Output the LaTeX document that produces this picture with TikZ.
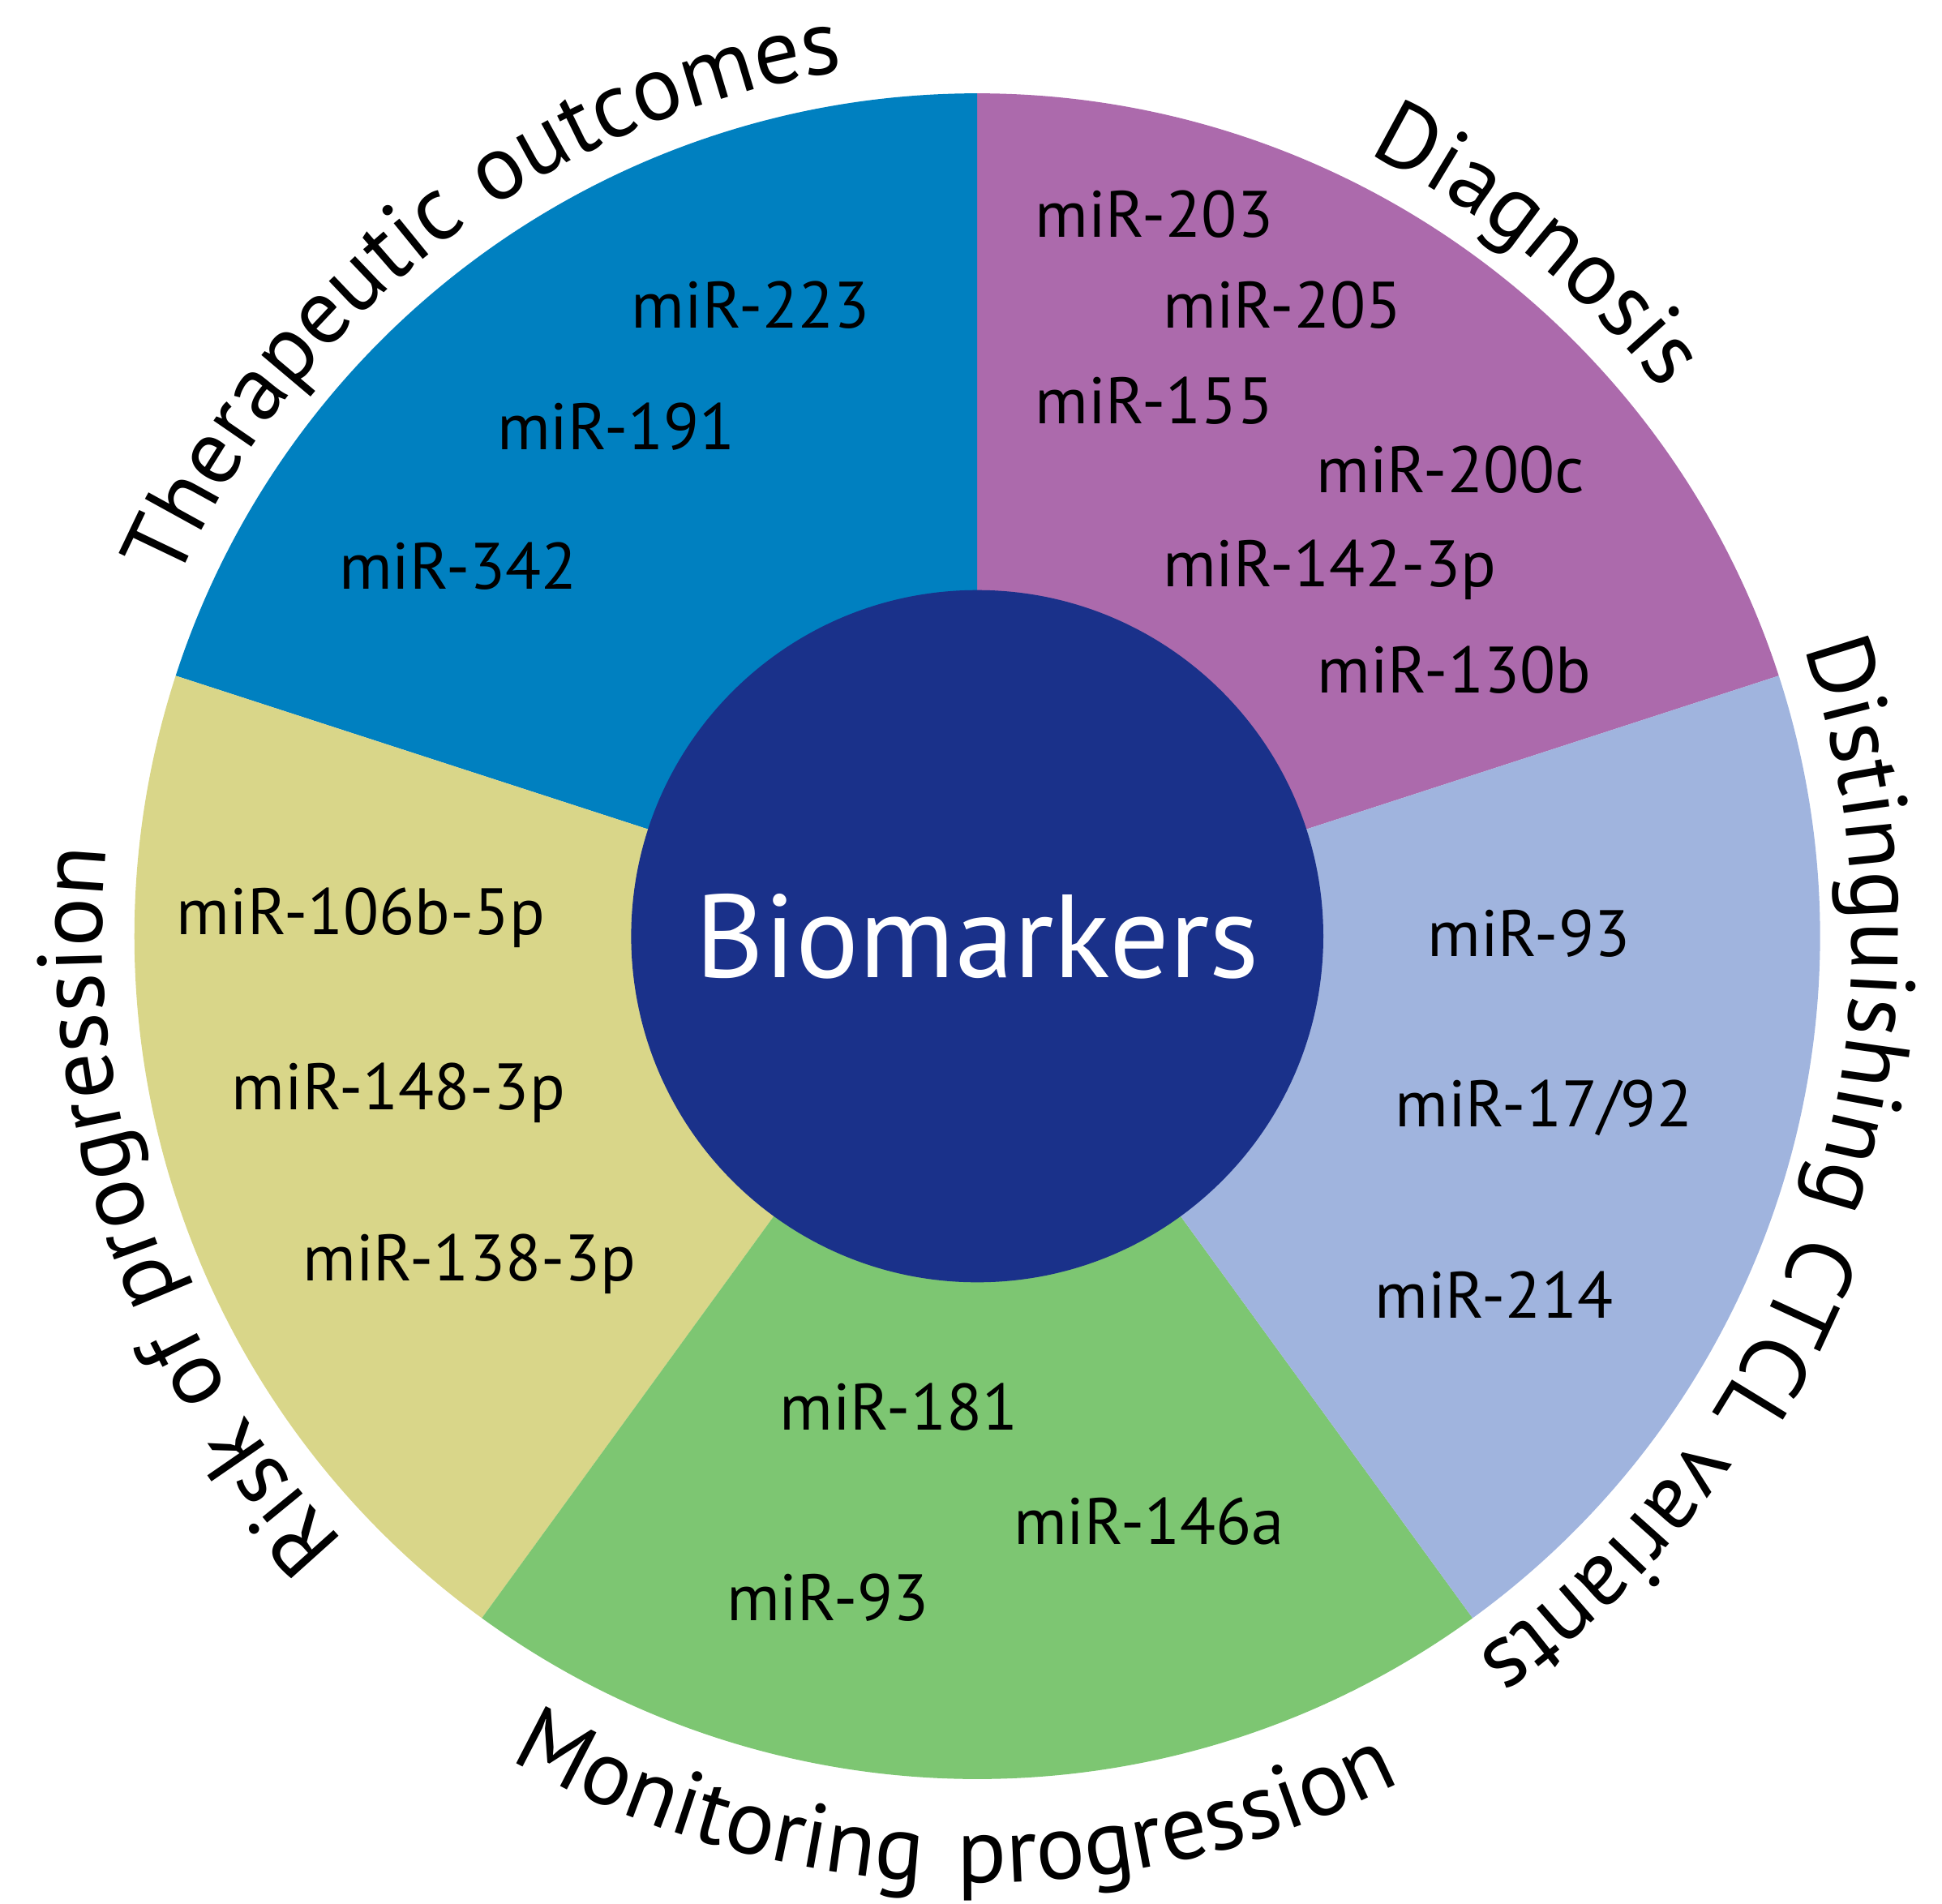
\documentclass[tikz,border=0pt]{standalone}
\usepackage{fontspec}
\setmainfont{PT Sans}
\usetikzlibrary{decorations.text}
\definecolor{cdiag}{HTML}{AC6AAC}
\definecolor{cdist}{HTML}{A0B4DE}
\definecolor{cmon}{HTML}{7DC672}
\definecolor{crisk}{HTML}{D9D689}
\definecolor{cther}{HTML}{0080C0}
\definecolor{ccen}{HTML}{1A318A}
\newcommand{\lf}{\fontsize{21pt}{21pt}\selectfont\addfontfeature{LetterSpace=4}}
\newcommand{\lfm}{\fontsize{21pt}{21pt}\selectfont\addfontfeature{LetterSpace=12}}
\begin{document}
\begin{tikzpicture}[
  mir/.style={font=\fontsize{15pt}{16pt}\selectfont, inner sep=0pt},
  curv/.style={decorate, decoration={text along path, text align=center, text format delimiters={|}{|}}}
]
\useasboundingbox (0,0) rectangle (15.6,15.29);
\coordinate (c) at (7.85,7.77);
\def\R{6.77}
\fill[cdiag] (c) -- ++(18:\R) arc[start angle=18,end angle=90,radius=\R] -- cycle;
\fill[cther] (c) -- ++(90:\R) arc[start angle=90,end angle=162,radius=\R] -- cycle;
\fill[crisk] (c) -- ++(162:\R) arc[start angle=162,end angle=234,radius=\R] -- cycle;
\fill[cmon] (c) -- ++(234:\R) arc[start angle=234,end angle=306,radius=\R] -- cycle;
\fill[cdist] (c) -- ++(306:\R) arc[start angle=306,end angle=378,radius=\R] -- cycle;
\node[circle, fill=ccen, minimum size=5.56cm, inner sep=0pt, text=white, font=\fontsize{27pt}{28pt}\selectfont] (bio) at (c) {Biomarkers};
% curved labels
\path[curv, decoration={text={|\lf|Therapeutic outcomes}}] (c) ++(187.5:7.03) arc[start angle=187.5,end angle=67.5,radius=7.03];
\path[curv, decoration={text={|\lf|Diagnosis}}] (c) ++(111:7.03) arc[start angle=111,end angle=-9,radius=7.03];
\path[curv, decoration={text={|\lf|Distinguishing CTCL variants}}] (c) ++(42:7.03) arc[start angle=42,end angle=-78,radius=7.03];
\path[curv, decoration={text={|\lf|Risk of progression}}] (c) ++(259:7.03) arc[start angle=259,end angle=139,radius=7.03];
\path[curv, decoration={text={|\lfm|Monitoring progression}}] (c) ++(208.5:7.6) arc[start angle=208.5,end angle=328.5,radius=7.6];
% labels
\node[mir] (t1) at (6.03,12.84) {miR-223};
\node[mir] (t2) at (4.95,11.86) {miR-191};
\node[mir] (t3) at (3.68,10.74) {miR-342};
\node[mir] (d1) at (9.27,13.57) {miR-203};
\node[mir] (d2) at (10.30,12.84) {miR-205};
\node[mir] (d3) at (9.27,12.07) {miR-155};
\node[mir] (d4) at (11.65,11.52) {miR-200c};
\node[mir] (d5) at (10.68,10.71) {miR-142-3p};
\node[mir] (d6) at (11.68,9.91) {miR-130b};
\node[mir] (s1) at (12.28,7.79) {miR-93};
\node[mir] (s2) at (12.40,6.39) {miR-17/92};
\node[mir] (s3) at (12.00,4.89) {miR-214};
\node[mir] (m1) at (7.22,3.99) {miR-181};
\node[mir] (m2) at (9.23,3.07) {miR-146a};
\node[mir] (m3) at (6.65,2.46) {miR-93};
\node[mir] (r1) at (2.90,7.92) {miR-106b-5p};
\node[mir] (r2) at (3.20,6.51) {miR-148-3p};
\node[mir] (r3) at (3.77,5.14) {miR-138-3p};
\end{tikzpicture}
\end{document}
